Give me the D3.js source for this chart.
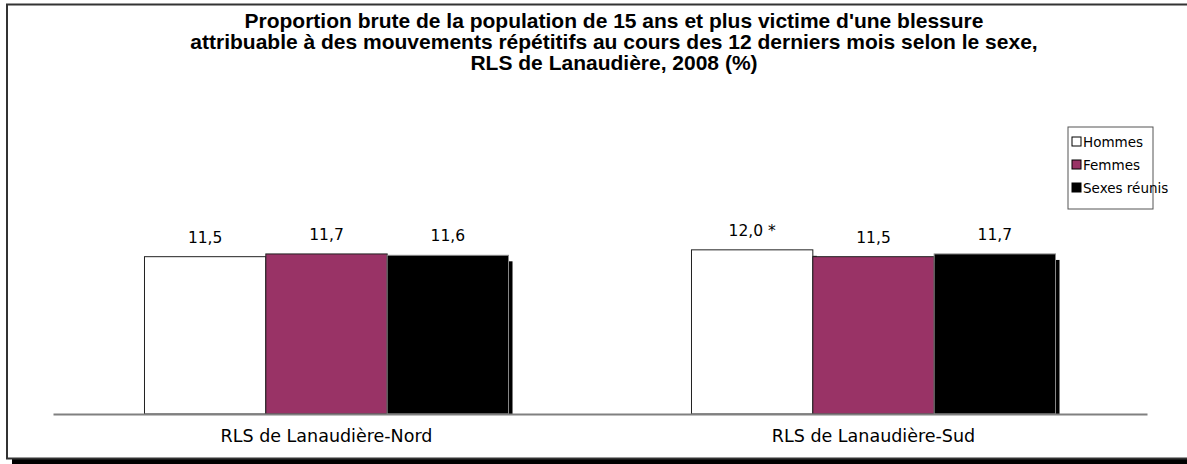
<!DOCTYPE html>
<html>
<head>
<meta charset="utf-8">
<script src="https://cdn.jsdelivr.net/npm/d3@7"></script>
<style>
  body { margin: 0; background: #fff; }
  svg { display: block; }
</style>
</head>
<body>
<div id="main"></div>
<script>
// data
const regions = ['RLS de Lanaudière-Nord', 'RLS de Lanaudière-Sud'];
const series = ['Hommes', 'Femmes', 'Sexes réunis'];
const hommes = [11.5, 12.0];
const femmes = [11.7, 11.5];
const sexesReunis = [11.6, 11.7];
const valueLabels = [
  ['11,5', '11,7', '11,6'],
  ['12,0 *', '11,5', '11,7'],
];
const titleLines = [
  "Proportion brute de la population de 15 ans et plus victime d'une blessure",
  'attribuable à des mouvements répétitifs au cours des 12 derniers mois selon le sexe,',
  'RLS de Lanaudière, 2008 (%)',
];

const W = 1187;
const H = 464;
const COLORS = { 'Hommes': '#ffffff', 'Femmes': '#993366', 'Sexes réunis': '#000000' };
const BODY_FONT = '"DejaVu Sans", sans-serif';

const svg = d3.select('#main').append('svg')
  .attr('width', W)
  .attr('height', H);

// outer frame with shadow
svg.append('rect')
  .attr('x', 12).attr('y', 459)
  .attr('width', W).attr('height', 6)
  .attr('fill', '#000');
svg.append('rect')
  .attr('x', 7).attr('y', 4.5)
  .attr('width', W + 10).attr('height', 454)
  .attr('fill', '#fff')
  .attr('stroke', '#333')
  .attr('stroke-width', 2);

// title
svg.append('text')
  .attr('text-anchor', 'middle')
  .attr('font-family', '"Liberation Sans", Arial, sans-serif')
  .attr('font-weight', 'bold')
  .attr('font-size', 21)
  .selectAll('tspan')
  .data(titleLines)
  .join('tspan')
  .attr('x', 614)
  .attr('y', (d, i) => 28 + i * 21)
  .text((d) => d);

// scales
const x0 = d3.scaleBand().domain(regions).range([53, 1147]).padding(0);
const x1 = d3.scaleBand().domain(series).range([0, x0.bandwidth()])
  .paddingInner(0).paddingOuter(0.754);
const y = d3.scaleLinear().domain([0, 25]).range([414, 72]);

const records = regions.map((r, i) => ({
  region: r,
  bars: [
    { key: 'Hommes', value: hommes[i], label: valueLabels[i][0] },
    { key: 'Femmes', value: femmes[i], label: valueLabels[i][1] },
    { key: 'Sexes réunis', value: sexesReunis[i], label: valueLabels[i][2] },
  ],
}));

const groups = svg.append('g').selectAll('g.group')
  .data(records)
  .join('g')
  .attr('class', 'group')
  .attr('transform', (d) => `translate(${x0(d.region)},0)`);

// shadow then bar, in order so the next bar covers the previous shadow
groups.each(function (d) {
  const g = d3.select(this);
  d.bars.forEach((b) => {
    g.append('rect')
      .attr('x', x1(b.key) + 4)
      .attr('y', y(b.value) + 6)
      .attr('width', x1.bandwidth())
      .attr('height', y(0) - y(b.value) - 6)
      .attr('fill', '#000');
    g.append('rect')
      .attr('x', x1(b.key))
      .attr('y', y(b.value))
      .attr('width', x1.bandwidth())
      .attr('height', y(0) - y(b.value))
      .attr('fill', COLORS[b.key])
      .attr('stroke', b.key === 'Sexes réunis' ? '#888' : '#222')
      .attr('stroke-width', 1);
  });
});

// value labels
groups.selectAll('text.val')
  .data((d) => d.bars)
  .join('text')
  .attr('class', 'val')
  .attr('x', (b) => x1(b.key) + x1.bandwidth() / 2)
  .attr('y', (b) => y(b.value) - 14)
  .attr('text-anchor', 'middle')
  .attr('font-family', BODY_FONT)
  .attr('font-size', 15.5)
  .attr('fill', '#000')
  .text((b) => b.label);

// x axis
const xAxis = svg.append('g')
  .attr('transform', `translate(0,${y(0)})`)
  .call(d3.axisBottom(x0).tickSize(0).tickPadding(16));
xAxis.select('.domain').attr('stroke', '#808080').attr('stroke-width', 2);
xAxis.selectAll('text')
  .attr('font-family', BODY_FONT)
  .attr('font-size', 17.5)
  .attr('fill', '#000');

// legend
const legend = svg.append('g').attr('transform', 'translate(1068,127)');
legend.append('rect')
  .attr('x', 0).attr('y', 0)
  .attr('width', 85).attr('height', 82)
  .attr('fill', '#fff')
  .attr('stroke', '#555')
  .attr('stroke-width', 1);
const items = legend.selectAll('g.item')
  .data(series)
  .join('g')
  .attr('class', 'item')
  .attr('transform', (d, i) => `translate(4,${10 + i * 23})`);
items.append('rect')
  .attr('width', 9).attr('height', 9)
  .attr('fill', (d) => COLORS[d])
  .attr('stroke', '#000');
items.append('text')
  .attr('x', 11).attr('y', 10)
  .attr('font-family', BODY_FONT)
  .attr('font-size', 13.5)
  .attr('fill', '#000')
  .text((d) => d);
</script>
</body>
</html>
